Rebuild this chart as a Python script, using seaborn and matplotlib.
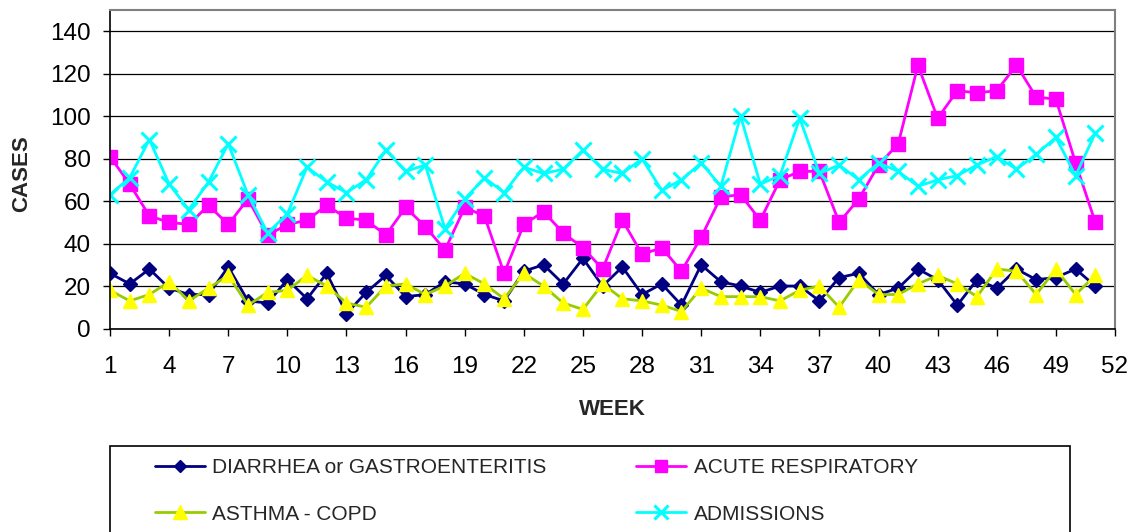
import numpy as np
import pandas as pd
import matplotlib
matplotlib.use("Agg")
import matplotlib.pyplot as plt
import seaborn as sns
from matplotlib.patches import Rectangle

# ---- data ----
weeks = list(range(1, 52))
diarrhea = [26, 21, 28, 19, 16, 16, 29, 13, 12, 23, 14, 26, 7, 17, 25, 15, 16, 22, 21, 16,
            13, 27, 30, 21, 33, 20, 29, 16, 21, 11, 30, 22, 20, 17, 20, 20, 13, 24, 26, 16,
            19, 28, 23, 11, 23, 19, 28, 23, 24, 28, 20]
acute_resp = [81, 68, 53, 50, 49, 58, 49, 61, 44, 49, 51, 58, 52, 51, 44, 57, 48, 37, 57, 53,
              26, 49, 55, 45, 38, 28, 51, 35, 38, 27, 43, 62, 63, 51, 70, 74, 74, 50, 61, 77,
              87, 124, 99, 112, 111, 112, 124, 109, 108, 78, 50]
asthma = [18, 13, 16, 22, 13, 19, 25, 11, 17, 18, 25, 20, 12, 10, 20, 21, 16, 20, 26, 21,
          14, 26, 20, 12, 9, 21, 14, 13, 11, 8, 19, 15, 15, 15, 13, 18, 20, 10, 23, 16,
          16, 21, 25, 21, 15, 28, 27, 16, 28, 16, 25]
admissions = [63, 71, 89, 68, 56, 69, 87, 63, 45, 54, 76, 69, 64, 70, 84, 74, 77, 47, 61, 71,
              64, 76, 73, 75, 84, 75, 73, 80, 65, 70, 78, 67, 100, 68, 72, 99, 73, 77, 70, 78,
              74, 67, 70, 72, 77, 81, 75, 82, 90, 72, 92]
series_names = ["DIARRHEA or GASTROENTERITIS", "ACUTE RESPIRATORY", "ASTHMA - COPD", "ADMISSIONS"]
y_ticks = list(range(0, 141, 20))
x_ticks = list(range(1, 53, 3))

# ---- style ----
sns.set_style("ticks")
plt.rcParams["font.family"] = ["Liberation Sans", "DejaVu Sans"]

W, H = 1137, 532
fig = plt.figure(figsize=(W / 100, H / 100), dpi=100)
ax = fig.add_axes([110 / W, 1 - 328.5 / H, (1115 - 110) / W, (328.5 - 10) / H])

styles = [
    dict(color="#000080", marker="D", markersize=6.8, markerfacecolor="#000080",
         markeredgecolor="#000080", markeredgewidth=1),
    dict(color="#FF00FF", marker="s", markersize=9.5, markerfacecolor="#FF00FF",
         markeredgecolor="#FF00FF", markeredgewidth=1),
    dict(color="#99CC00", marker="^", markersize=10.5, markerfacecolor="#FFFF00",
         markeredgecolor="#FFFF00", markeredgewidth=1),
    dict(color="#00FFFF", marker="x", markersize=11, markeredgecolor="#00FFFF",
         markeredgewidth=2.2),
]
data = [diarrhea, acute_resp, asthma, admissions]

for name, vals, st in zip(series_names, data, styles):
    sns.lineplot(x=weeks, y=vals, ax=ax, label=name, linewidth=2.0, **st)

handles, labels = ax.get_legend_handles_labels()
if ax.get_legend() is not None:
    ax.get_legend().remove()
# column-major order so rows read: DIARRHEA | ACUTE, ASTHMA | ADMISSIONS
order = [0, 2, 1, 3]
handles = [handles[i] for i in order]
labels = [labels[i] for i in order]

ax.set_xlim(1, 52)
ax.set_ylim(0, 150)
ax.set_xticks(x_ticks)
ax.set_yticks(y_ticks)
ax.yaxis.grid(True, color="black", linewidth=0.9)
ax.set_axisbelow(True)

for s in ["left", "bottom"]:
    ax.spines[s].set_color("black")
    ax.spines[s].set_linewidth(1.2)
for s in ["top", "right"]:
    ax.spines[s].set_color("#808080")
    ax.spines[s].set_linewidth(1.5)

ax.tick_params(axis="both", direction="out", length=5, width=1, colors="black",
               labelsize=17.5)
ax.tick_params(axis="y", pad=9)
ax.tick_params(axis="x", pad=15)

ax.set_xlabel("WEEK", fontsize=16, fontweight="bold")
ax.set_ylabel("CASES", fontsize=16, fontweight="bold")
ax.xaxis.set_label_coords(0.5, -0.222)
ax.yaxis.set_label_coords(-0.077, 0.487)

# legend box
fig.add_artist(Rectangle((110 / W, -0.1), 960 / W, (1 - 446 / H) + 0.1,
                         transform=fig.transFigure, fill=False,
                         edgecolor="black", linewidth=1.2, clip_on=False))
fig.legend(handles, labels, loc="upper left", bbox_to_anchor=(155 / W, 1 - 458 / H),
           ncol=2, frameon=False, fontsize=15, handlelength=2.4, handletextpad=0.35,
           columnspacing=4.3, labelspacing=1.32, borderpad=0, borderaxespad=0,
           markerscale=0.9)

fig.savefig("out.png", dpi=100)
